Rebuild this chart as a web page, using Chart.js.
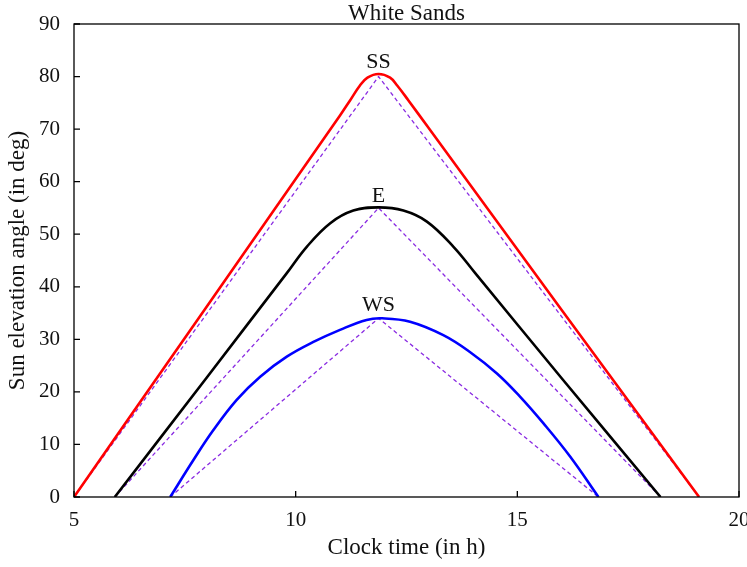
<!DOCTYPE html>
<html>
<head>
<meta charset="utf-8">
<script src="https://cdn.jsdelivr.net/npm/chart.js@4/dist/chart.umd.min.js"></script>
<style>
  body { margin: 0; background: #fff; }
  #wrap { width: 747px; height: 567px; }
</style>
</head>
<body>
<div id="wrap"><canvas id="sunChart"></canvas></div>
<script>
// values (x = clock time in h, y = elevation in deg)
const ssCurve = [[5, 0], [8, 36.3], [11.0, 72.6], [11.23, 75.5], [11.45, 78.3], [11.62, 79.8], [11.87, 80.5],
    [12.13, 79.8], [12.29, 78.3], [12.54, 75.5], [13, 70.2], [16, 35.6], [19.1, 0]];
const eCurve = [[5.92, 0], [8, 22.8], [9.8, 42.6], [10.25, 47.6], [10.78, 52.1], [11.3, 54.5], [11.87, 55.1],
    [12.43, 54.5], [12.96, 52.4], [13.56, 47.6], [14.05, 42.6], [16, 22.6], [18.23, 0]];
const wsCurve = [[7.17, 0], [7.69, 7.0], [8.14, 12.7], [8.67, 18.5], [9.2, 22.9], [9.8, 26.7], [10.4, 29.5],
    [11.0, 31.8], [11.6, 33.7], [11.95, 34.0], [12.58, 33.35], [13.33, 30.8], [13.93, 27.6], [14.54, 23.5],
    [15.06, 19.1], [15.59, 14.0], [16.19, 7.7], [16.83, 0]];

const ssRef = [[5, 0], [11.87, 80], [19.1, 0]];
const eRef = [[5.92, 0], [11.87, 55], [18.23, 0]];
const wsRef = [[7.17, 0], [11.87, 34], [16.83, 0]];

const peakLabels = ['SS', 'E', 'WS'];
const peakLabelX = [11.87, 11.87, 11.87];
const peakLabelY = [82.7, 57.3, 36.5];

const xTicks = [5, 10, 15, 20];
const yTicks = [0, 10, 20, 30, 40, 50, 60, 70, 80, 90];

const FONT = 'Liberation Serif';
const toPts = arr => arr.map(p => ({ x: p[0], y: p[1] }));

const solid = (data, color) => ({
    data: toPts(data),
    borderColor: color,
    borderWidth: 2.6,
    showLine: true,
    pointRadius: 0,
    tension: 0.4,
    fill: false
});
const dashed = (data) => ({
    data: toPts(data),
    borderColor: '#8a2be2',
    borderWidth: 1.3,
    borderDash: [4, 3],
    showLine: true,
    pointRadius: 0,
    tension: 0,
    fill: false
});

// frame, inward ticks, title and peak labels
const decorations = {
    id: 'decorations',
    afterDatasetsDraw(chart) {
        const { ctx, chartArea: a, scales: { x, y } } = chart;
        ctx.save();
        ctx.strokeStyle = '#000';
        ctx.lineWidth = 1.3;
        ctx.strokeRect(a.left, a.top, a.right - a.left, a.bottom - a.top);
        ctx.beginPath();
        xTicks.forEach(v => {
            const px = x.getPixelForValue(v);
            ctx.moveTo(px, a.bottom);
            ctx.lineTo(px, a.bottom - 6);
        });
        yTicks.forEach(v => {
            const py = y.getPixelForValue(v);
            ctx.moveTo(a.left, py);
            ctx.lineTo(a.left + 6, py);
        });
        ctx.stroke();

        ctx.fillStyle = '#111';
        ctx.textAlign = 'center';
        ctx.textBaseline = 'middle';
        ctx.font = '23px "' + FONT + '"';
        ctx.fillText('White Sands', (a.left + a.right) / 2, a.top - 10);
        ctx.font = '22px "' + FONT + '"';
        peakLabels.forEach((t, i) => {
            ctx.fillText(t, x.getPixelForValue(peakLabelX[i]), y.getPixelForValue(peakLabelY[i]));
        });
        ctx.restore();
    }
};

new Chart(document.getElementById('sunChart'), {
    type: 'scatter',
    data: {
        datasets: [
            solid(ssCurve, '#ff0000'),
            solid(eCurve, '#000000'),
            solid(wsCurve, '#0000ff'),
            dashed(ssRef),
            dashed(eRef),
            dashed(wsRef)
        ]
    },
    options: {
        responsive: true,
        maintainAspectRatio: false,
        animation: false,
        layout: { padding: { top: 24, right: 8, left: 0, bottom: 0 } },
        plugins: {
            legend: { display: false },
            tooltip: { enabled: false }
        },
        scales: {
            x: {
                type: 'linear',
                min: 5,
                max: 20,
                afterBuildTicks: s => { s.ticks = xTicks.map(v => ({ value: v })); },
                grid: { display: false },
                border: { display: false },
                ticks: { color: '#111', font: { family: FONT, size: 21 }, padding: 3, maxRotation: 0 },
                title: { display: true, text: 'Clock time (in h)', color: '#111', font: { family: FONT, size: 23 }, padding: { top: 2, bottom: 5 } },
                afterFit: s => { s.height = 70; s.paddingRight = 0; s.paddingLeft = 0; }
            },
            y: {
                type: 'linear',
                min: 0,
                max: 90,
                afterBuildTicks: s => { s.ticks = yTicks.map(v => ({ value: v })); },
                grid: { display: false },
                border: { display: false },
                ticks: { color: '#111', font: { family: FONT, size: 21 }, padding: 6 },
                title: { display: true, text: 'Sun elevation angle (in deg)', color: '#111', font: { family: FONT, size: 23 }, padding: { top: 4, bottom: 4 } },
                afterFit: s => { s.width = 74; }
            }
        }
    },
    plugins: [decorations]
});
</script>
</body>
</html>
